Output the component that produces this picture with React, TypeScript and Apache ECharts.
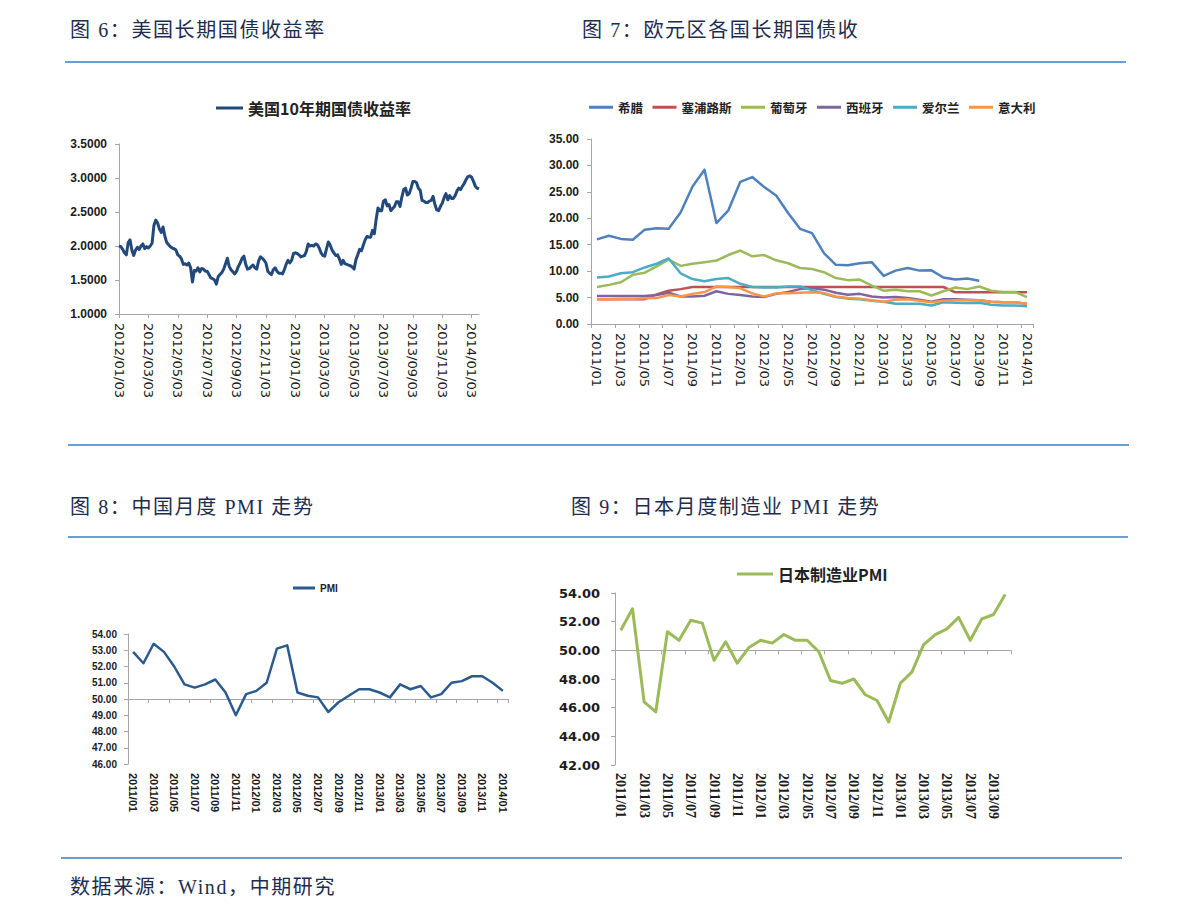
import React, { useEffect, useRef } from "react";
import * as echarts from "echarts";

// ---------- Figure 6: US 10Y treasury yield ----------
const usTicks = [
  "2012/01/03", "2012/03/03", "2012/05/03", "2012/07/03", "2012/09/03", "2012/11/03",
  "2013/01/03", "2013/03/03", "2013/05/03", "2013/07/03", "2013/09/03", "2013/11/03", "2014/01/03",
];
const US_STEP = 16; // samples between two tick labels
const usYield = [
  2.00, 1.99, 1.95, 1.90, 1.87, 2.05, 2.09, 1.94, 1.86, 1.94, 1.98, 1.95, 2.00, 2.03, 1.96, 1.99,
  1.97, 2.00, 2.04, 2.30, 2.38, 2.34, 2.25, 2.20, 2.28, 2.14, 2.05, 2.02, 1.99, 1.97, 1.96, 1.94,
  1.87, 1.85, 1.81, 1.73, 1.74, 1.72, 1.75, 1.68, 1.47, 1.64, 1.63, 1.68, 1.62, 1.67, 1.66, 1.63,
  1.63, 1.58, 1.53, 1.52, 1.50, 1.44, 1.55, 1.58, 1.61, 1.66, 1.74, 1.82, 1.70, 1.65, 1.62, 1.59,
  1.63, 1.70, 1.75, 1.82, 1.85, 1.73, 1.66, 1.67, 1.70, 1.72, 1.68, 1.66, 1.78, 1.84, 1.82, 1.79,
  1.75, 1.63, 1.60, 1.58, 1.65, 1.68, 1.63, 1.60, 1.60, 1.59, 1.65, 1.73, 1.79, 1.75, 1.79, 1.89,
  1.90, 1.89, 1.87, 1.84, 1.85, 1.86, 1.92, 2.03, 2.00, 2.01, 2.00, 2.03, 2.02, 1.97, 1.90, 1.86,
  1.85, 1.96, 2.06, 2.01, 1.94, 1.90, 1.86, 1.87, 1.81, 1.73, 1.79, 1.74, 1.73, 1.72, 1.71, 1.69,
  1.66, 1.80, 1.87, 1.95, 1.93, 2.01, 2.09, 2.14, 2.13, 2.13, 2.23, 2.18, 2.39, 2.56, 2.52, 2.52,
  2.66, 2.68, 2.59, 2.61, 2.52, 2.55, 2.58, 2.65, 2.65, 2.58, 2.72, 2.83, 2.85, 2.75, 2.77, 2.85,
  2.95, 2.95, 2.93, 2.85, 2.82, 2.67, 2.66, 2.64, 2.64, 2.66, 2.67, 2.73, 2.61, 2.53, 2.52, 2.58,
  2.63, 2.71, 2.77, 2.68, 2.74, 2.70, 2.70, 2.74, 2.81, 2.85, 2.83, 2.88, 2.92, 2.98, 3.02, 3.03,
  3.01, 2.95, 2.88, 2.85, 2.84,
];
const usTicksVals = ["1.0000", "1.5000", "2.0000", "2.5000", "3.0000", "3.5000"];

// ---------- Figure 7: Euro area yields ----------
const euMonths = [
  "2011/01", "2011/02", "2011/03", "2011/04", "2011/05", "2011/06", "2011/07", "2011/08", "2011/09", "2011/10", "2011/11", "2011/12",
  "2012/01", "2012/02", "2012/03", "2012/04", "2012/05", "2012/06", "2012/07", "2012/08", "2012/09", "2012/10", "2012/11", "2012/12",
  "2013/01", "2013/02", "2013/03", "2013/04", "2013/05", "2013/06", "2013/07", "2013/08", "2013/09", "2013/10", "2013/11", "2013/12",
  "2014/01",
];
const greece = [
  16.0, 16.7, 16.1, 15.95, 17.85, 18.1, 18.0, 21.1, 26.0, 29.2, 19.1, 21.5,
  26.9, 27.8, 25.9, 24.3, 21.0, 18.0, 17.2, 13.4, 11.2, 11.1, 11.5, 11.7,
  9.1, 10.1, 10.6, 10.1, 10.15, 8.8, 8.4, 8.6, 8.2,
];
const cyprus = [
  4.7, 4.7, 4.7, 4.7, 4.7, 5.6, 6.3, 6.6, 7.0, 7.0, 7.0, 7.0,
  7.0, 7.0, 7.0, 7.0, 7.0, 7.0, 7.0, 7.0, 7.0, 7.0, 7.0, 7.0,
  7.0, 7.0, 7.0, 7.0, 7.0, 7.0, 6.0, 6.0, 6.0, 6.0, 6.0, 6.0,
  6.0,
];
const portugal = [
  7.0, 7.4, 7.9, 9.3, 9.7, 10.9, 12.2, 11.0, 11.4, 11.7, 12.0, 13.05,
  13.9, 12.8, 13.05, 12.05, 11.5, 10.6, 10.4, 9.8, 8.7, 8.3, 8.4, 7.25,
  6.3, 6.5, 6.2, 6.2, 5.4, 6.2, 6.9, 6.6, 7.1, 6.3, 6.05, 6.05,
  5.1,
];
const spain = [
  5.3, 5.3, 5.3, 5.3, 5.3, 5.5, 5.9, 5.2, 5.2, 5.35, 6.2, 5.7,
  5.5, 5.2, 5.1, 5.7, 6.05, 6.6, 6.8, 6.5, 5.9, 5.55, 5.7, 5.2,
  5.0, 5.1, 4.9, 4.6, 4.2, 4.7, 4.7, 4.6, 4.5, 4.2, 4.1, 4.1,
  3.85,
];
const ireland = [
  8.8, 9.0, 9.6, 9.8, 10.7, 11.4, 12.4, 9.6, 8.5, 8.1, 8.5, 8.7,
  7.6, 7.0, 6.9, 6.9, 7.1, 7.1, 6.4, 5.7, 5.1, 4.8, 4.7, 4.4,
  4.2, 3.85, 3.85, 3.85, 3.5, 4.1, 4.0, 3.95, 4.0, 3.65, 3.5, 3.5,
  3.35,
];
const italy = [
  4.7, 4.7, 4.8, 4.8, 4.85, 4.9, 5.5, 5.2, 5.7, 6.05, 7.1, 7.0,
  6.75, 5.8, 5.2, 5.8, 5.8, 5.9, 6.0, 5.85, 5.2, 4.9, 4.8, 4.5,
  4.2, 4.6, 4.7, 4.4, 4.1, 4.4, 4.5, 4.5, 4.5, 4.2, 4.1, 4.1,
  3.85,
];
const euNames = ["希腊", "塞浦路斯", "葡萄牙", "西班牙", "爱尔兰", "意大利"];
const euColors = ["#4f81bd", "#c0504d", "#9bbb59", "#8064a2", "#4bacc6", "#f79646"];
const euSeries = [greece, cyprus, portugal, spain, ireland, italy];

// ---------- Figure 8: China PMI ----------
const cnMonths = euMonths;
const cnPmi = [
  52.9, 52.2, 53.4, 52.9, 52.0, 50.9, 50.7, 50.9, 51.2, 50.4, 49.0, 50.3,
  50.5, 51.0, 53.1, 53.3, 50.4, 50.2, 50.1, 49.2, 49.8, 50.2, 50.6, 50.6,
  50.4, 50.1, 50.9, 50.6, 50.8, 50.1, 50.3, 51.0, 51.1, 51.4, 51.4, 51.0,
  50.5,
];

// ---------- Figure 9: Japan manufacturing PMI ----------
const jpMonths = [
  "2011/01", "2011/02", "2011/03", "2011/04", "2011/05", "2011/06", "2011/07", "2011/08", "2011/09", "2011/10", "2011/11", "2011/12",
  "2012/01", "2012/02", "2012/03", "2012/04", "2012/05", "2012/06", "2012/07", "2012/08", "2012/09", "2012/10", "2012/11", "2012/12",
  "2013/01", "2013/02", "2013/03", "2013/04", "2013/05", "2013/06", "2013/07", "2013/08", "2013/09", "2013/10",
];
const jpPmi = [
  51.4, 52.9, 46.4, 45.7, 51.3, 50.7, 52.1, 51.9, 49.3, 50.6, 49.1, 50.2,
  50.7, 50.5, 51.1, 50.7, 50.7, 49.9, 47.9, 47.7, 48.0, 46.9, 46.5, 45.0,
  47.7, 48.5, 50.4, 51.1, 51.5, 52.3, 50.7, 52.2, 52.5, 53.9,
];

const titles = [
  { text: "图 6：美国长期国债收益率", left: 70, cy: 30 },
  { text: "图 7：欧元区各国长期国债收", left: 582, cy: 30 },
  { text: "图 8：中国月度 PMI 走势", left: 70, cy: 507 },
  { text: "图 9：日本月度制造业 PMI 走势", left: 571, cy: 507 },
  { text: "数据来源：Wind，中期研究", left: 70, cy: 887 },
];

const GRAY = "#a6a6a6";
const LABEL = "#1c1c1c";
const G = [
  { left: 119, top: 144, width: 360, height: 170 },
  { left: 591, top: 139, width: 442, height: 185 },
  { left: 128, top: 634, width: 380, height: 130 },
  { left: 615, top: 593, width: 396, height: 172 },
];
const CN_MIN = 46, CN_MAX = 54, CN_CROSS = 50;
const JP_MIN = 42, JP_MAX = 54, JP_CROSS = 50;

export default function App() {
  const ref = useRef<HTMLDivElement>(null);
  useEffect(() => {
    if (!ref.current) return;
    const chart = echarts.init(ref.current, undefined, { renderer: "svg" });
    const axisLine = { show: true, lineStyle: { color: GRAY, width: 1 } };
    const tick = (interval: number) => ({ show: true, interval, length: 4, lineStyle: { color: GRAY } });
    const usIdx = usYield.map((_, i) => String(i));

    const option: any = {
      animation: false,
      grid: G.map((g) => ({ ...g, containLabel: false })),
      legend: [
        {
          data: ["美国10年期国债收益率"], left: 216, top: 100, padding: 0, icon: "rect",
          itemWidth: 27, itemHeight: 3,
          textStyle: { fontFamily: "Noto Sans CJK SC", fontSize: 16, fontWeight: "bold", color: "#222" },
        },
        {
          data: euNames, left: 589, top: 101, padding: 0, icon: "rect",
          itemWidth: 24, itemHeight: 3, itemGap: 9.5,
          textStyle: { fontFamily: "Noto Sans CJK SC", fontSize: 12.5, fontWeight: "bold", color: "#222" },
        },
        {
          data: ["PMI"], left: 293, top: 583, padding: 0, icon: "rect",
          itemWidth: 22, itemHeight: 3,
          textStyle: { fontFamily: "Liberation Sans", fontSize: 10, fontWeight: "bold", color: "#222" },
        },
        {
          data: ["日本制造业PMI"], left: 737, top: 566, padding: 0, icon: "rect",
          itemWidth: 36, itemHeight: 3,
          textStyle: { fontFamily: "Noto Sans CJK SC", fontSize: 16, fontWeight: "bold", color: "#222" },
        },
      ],
      xAxis: [
        {
          gridIndex: 0, type: "category", data: usIdx, boundaryGap: false, position: "bottom",
          axisLine, axisTick: tick(US_STEP - 1),
          axisLabel: {
            interval: US_STEP - 1, rotate: -90, margin: 9, color: LABEL,
            fontFamily: "DejaVu Sans", fontSize: 13,
            formatter: (_v: string, i: number) => usTicks[i / US_STEP] ?? "",
          },
        },
        {
          gridIndex: 1, type: "category", data: euMonths, boundaryGap: true, position: "bottom",
          axisLine, axisTick: tick(1),
          axisLabel: { interval: 1, rotate: -90, margin: 9, color: LABEL, fontFamily: "DejaVu Sans", fontSize: 13 },
        },
        {
          gridIndex: 2, type: "category", data: cnMonths, boundaryGap: true, position: "bottom",
          axisLine: { show: false }, axisTick: { show: false },
          axisLabel: { interval: 1, rotate: -90, margin: 9, color: LABEL, fontFamily: "Liberation Sans", fontWeight: "bold", fontSize: 11 },
        },
        {
          gridIndex: 2, type: "category", data: cnMonths, boundaryGap: true, position: "bottom",
          offset: -(G[2].height * (CN_CROSS - CN_MIN)) / (CN_MAX - CN_MIN),
          axisLine, axisTick: tick(1), axisLabel: { show: false },
        },
        {
          gridIndex: 3, type: "category", data: jpMonths, boundaryGap: true, position: "bottom",
          axisLine: { show: false }, axisTick: { show: false },
          axisLabel: { interval: 1, rotate: -90, margin: 8, color: LABEL, fontFamily: "Liberation Serif", fontWeight: "bold", fontSize: 14 },
        },
        {
          gridIndex: 3, type: "category", data: jpMonths, boundaryGap: true, position: "bottom",
          offset: -(G[3].height * (JP_CROSS - JP_MIN)) / (JP_MAX - JP_MIN),
          axisLine, axisTick: tick(1), axisLabel: { show: false },
        },
      ],
      yAxis: [
        {
          gridIndex: 0, type: "value", min: 1, max: 3.5, interval: 0.5,
          axisLine, axisTick: tick(0), splitLine: { show: false },
          axisLabel: { margin: 12, color: LABEL, fontFamily: "Liberation Sans", fontWeight: "bold", fontSize: 12, formatter: (v: number) => v.toFixed(4) },
        },
        {
          gridIndex: 1, type: "value", min: 0, max: 35, interval: 5,
          axisLine, axisTick: tick(0), splitLine: { show: false },
          axisLabel: { margin: 12, color: LABEL, fontFamily: "Liberation Sans", fontWeight: "bold", fontSize: 12, formatter: (v: number) => v.toFixed(2) },
        },
        {
          gridIndex: 2, type: "value", min: CN_MIN, max: CN_MAX, interval: 1,
          axisLine, axisTick: tick(0), splitLine: { show: false },
          axisLabel: { margin: 11, color: LABEL, fontFamily: "Liberation Sans", fontWeight: "bold", fontSize: 10, formatter: (v: number) => v.toFixed(2) },
        },
        {
          gridIndex: 3, type: "value", min: JP_MIN, max: JP_MAX, interval: 2,
          axisLine, axisTick: tick(0), splitLine: { show: false },
          axisLabel: { margin: 15, color: LABEL, fontFamily: "DejaVu Sans", fontWeight: "bold", fontSize: 13, formatter: (v: number) => v.toFixed(2) },
        },
      ],
      series: [
        {
          name: "美国10年期国债收益率", type: "line", xAxisIndex: 0, yAxisIndex: 0, data: usYield,
          showSymbol: false, symbol: "none", itemStyle: { color: "#22497c" },
          lineStyle: { color: "#22497c", width: 3, join: "round" },
        },
        ...euSeries.map((d, k) => ({
          name: euNames[k], type: "line", xAxisIndex: 1, yAxisIndex: 1, data: d,
          showSymbol: false, symbol: "none", itemStyle: { color: euColors[k] },
          lineStyle: { color: euColors[k], width: 2.5, join: "round" },
        })),
        {
          name: "PMI", type: "line", xAxisIndex: 2, yAxisIndex: 2, data: cnPmi,
          showSymbol: false, symbol: "none", itemStyle: { color: "#2b5a8f" },
          lineStyle: { color: "#2b5a8f", width: 2.5, join: "round" },
        },
        {
          name: "日本制造业PMI", type: "line", xAxisIndex: 4, yAxisIndex: 3, data: jpPmi,
          showSymbol: false, symbol: "none", itemStyle: { color: "#9bbb59" },
          lineStyle: { color: "#9bbb59", width: 3, join: "round" },
        },
      ],
      graphic: [
        { type: "line", shape: { x1: 65, y1: 62, x2: 1126, y2: 62 }, style: { stroke: "#6c9ddb", lineWidth: 2 } },
        { type: "line", shape: { x1: 68, y1: 445, x2: 1129, y2: 445 }, style: { stroke: "#6c9ddb", lineWidth: 2 } },
        { type: "line", shape: { x1: 68, y1: 537, x2: 1128, y2: 537 }, style: { stroke: "#6c9ddb", lineWidth: 2 } },
        { type: "line", shape: { x1: 61, y1: 858, x2: 1122, y2: 858 }, style: { stroke: "#6c9ddb", lineWidth: 2 } },
      ],
    };
    chart.setOption(option);
    return () => chart.dispose();
  }, []);

  return (
    <div style={{ position: "absolute", left: 0, top: 0, width: 1191, height: 919, background: "#fff" }}>
      <div ref={ref} style={{ position: "absolute", left: 0, top: 0, width: 1191, height: 919 }} />
      {titles.map((t) => (
        <div
          key={t.text}
          style={{
            position: "absolute", left: t.left, top: t.cy - 13, height: 26, lineHeight: "26px",
            fontFamily: "'Liberation Serif', 'Noto Sans CJK SC', serif", fontSize: 20,
            letterSpacing: 1.6, color: "#1d2d4e", whiteSpace: "nowrap",
          }}
        >
          {t.text}
        </div>
      ))}
    </div>
  );
}
